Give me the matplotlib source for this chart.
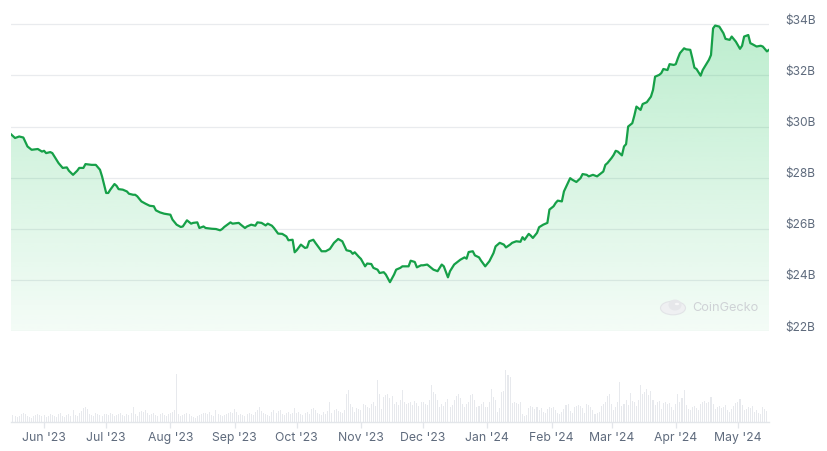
import matplotlib
matplotlib.use("Agg")
import matplotlib.pyplot as plt
import matplotlib.dates as mdates
from matplotlib.transforms import ScaledTranslation
from matplotlib.patches import Circle, Ellipse
import numpy as np
import pandas as pd

# ---------------- data (market cap, $B) ----------------
cap_dates = [
    "2023-05-16", "2023-05-18", "2023-05-20", "2023-05-22", "2023-05-24", "2023-05-26", "2023-05-29", "2023-05-31",
    "2023-06-01", "2023-06-02", "2023-06-04", "2023-06-05", "2023-06-08", "2023-06-10", "2023-06-12", "2023-06-13",
    "2023-06-15", "2023-06-17", "2023-06-18", "2023-06-20", "2023-06-21", "2023-06-24", "2023-06-26", "2023-06-28",
    "2023-06-29", "2023-07-01", "2023-07-02", "2023-07-03", "2023-07-05", "2023-07-06", "2023-07-07", "2023-07-09",
    "2023-07-11", "2023-07-12", "2023-07-14", "2023-07-15", "2023-07-16", "2023-07-18", "2023-07-20", "2023-07-22",
    "2023-07-24", "2023-07-25", "2023-07-27", "2023-07-29", "2023-08-01", "2023-08-02", "2023-08-04", "2023-08-06",
    "2023-08-07", "2023-08-09", "2023-08-11", "2023-08-12", "2023-08-14", "2023-08-15", "2023-08-17", "2023-08-18",
    "2023-08-21", "2023-08-23", "2023-08-25", "2023-08-26", "2023-08-27", "2023-08-30", "2023-08-31", "2023-09-03",
    "2023-09-04", "2023-09-06", "2023-09-07", "2023-09-09", "2023-09-11", "2023-09-12", "2023-09-14", "2023-09-16",
    "2023-09-17", "2023-09-19", "2023-09-20", "2023-09-22", "2023-09-24", "2023-09-26", "2023-09-27", "2023-09-29",
    "2023-09-30", "2023-10-01", "2023-10-03", "2023-10-05", "2023-10-06", "2023-10-07", "2023-10-09", "2023-10-10",
    "2023-10-13", "2023-10-15", "2023-10-17", "2023-10-19", "2023-10-21", "2023-10-23", "2023-10-25", "2023-10-27",
    "2023-10-28", "2023-10-29", "2023-10-31", "2023-11-01", "2023-11-03", "2023-11-04", "2023-11-06", "2023-11-07",
    "2023-11-09", "2023-11-10", "2023-11-12", "2023-11-13", "2023-11-15", "2023-11-17", "2023-11-18", "2023-11-20",
    "2023-11-21", "2023-11-24", "2023-11-25", "2023-11-27", "2023-11-28", "2023-11-30", "2023-12-01", "2023-12-03",
    "2023-12-06", "2023-12-08", "2023-12-10", "2023-12-11", "2023-12-13", "2023-12-14", "2023-12-16", "2023-12-18",
    "2023-12-19", "2023-12-21", "2023-12-22", "2023-12-23", "2023-12-25", "2023-12-26", "2023-12-28", "2023-12-29",
    "2023-12-31", "2024-01-02", "2024-01-04", "2024-01-05", "2024-01-07", "2024-01-09", "2024-01-10", "2024-01-12",
    "2024-01-13", "2024-01-15", "2024-01-17", "2024-01-18", "2024-01-19", "2024-01-21", "2024-01-22", "2024-01-23",
    "2024-01-25", "2024-01-26", "2024-01-28", "2024-01-30", "2024-01-31", "2024-02-02", "2024-02-03", "2024-02-04",
    "2024-02-06", "2024-02-07", "2024-02-10", "2024-02-11", "2024-02-13", "2024-02-15", "2024-02-16", "2024-02-18",
    "2024-02-19", "2024-02-21", "2024-02-23", "2024-02-25", "2024-02-26", "2024-02-27", "2024-02-28", "2024-03-01",
    "2024-03-02", "2024-03-03", "2024-03-04", "2024-03-06", "2024-03-07", "2024-03-08", "2024-03-09", "2024-03-11",
    "2024-03-12", "2024-03-13", "2024-03-15", "2024-03-16", "2024-03-18", "2024-03-20", "2024-03-21", "2024-03-22",
    "2024-03-24", "2024-03-25", "2024-03-26", "2024-03-28", "2024-03-29", "2024-03-31", "2024-04-01", "2024-04-02",
    "2024-04-03", "2024-04-05", "2024-04-06", "2024-04-08", "2024-04-09", "2024-04-10", "2024-04-11", "2024-04-13",
    "2024-04-14", "2024-04-16", "2024-04-17", "2024-04-18", "2024-04-19", "2024-04-20", "2024-04-22", "2024-04-24",
    "2024-04-25", "2024-04-27", "2024-04-28", "2024-04-30", "2024-05-02", "2024-05-03", "2024-05-04", "2024-05-06",
    "2024-05-07", "2024-05-08", "2024-05-10", "2024-05-12", "2024-05-13", "2024-05-15", "2024-05-16",
]
cap_values = [
    29.70, 29.55, 29.61, 29.57, 29.22, 29.09, 29.12, 29.02,
    29.05, 28.96, 29.00, 28.96, 28.57, 28.38, 28.40, 28.27,
    28.11, 28.27, 28.38, 28.38, 28.53, 28.50, 28.50, 28.31,
    28.05, 27.40, 27.40, 27.53, 27.75, 27.68, 27.55, 27.53,
    27.46, 27.37, 27.33, 27.33, 27.27, 27.07, 26.98, 26.90,
    26.88, 26.72, 26.64, 26.59, 26.55, 26.36, 26.16, 26.07,
    26.09, 26.33, 26.20, 26.23, 26.25, 26.03, 26.09, 26.03,
    26.00, 25.99, 25.94, 25.99, 26.07, 26.25, 26.20, 26.23,
    26.16, 26.03, 26.09, 26.16, 26.12, 26.25, 26.23, 26.13,
    26.20, 26.12, 26.03, 25.81, 25.80, 25.70, 25.55, 25.57,
    25.08, 25.16, 25.38, 25.25, 25.27, 25.51, 25.57, 25.45,
    25.12, 25.12, 25.21, 25.45, 25.60, 25.51, 25.16, 25.12,
    25.02, 25.08, 24.90, 24.82, 24.53, 24.64, 24.62, 24.47,
    24.40, 24.27, 24.30, 24.21, 23.91, 24.21, 24.40, 24.47,
    24.53, 24.53, 24.75, 24.70, 24.49, 24.57, 24.57, 24.60,
    24.40, 24.34, 24.60, 24.53, 24.10, 24.34, 24.60, 24.73,
    24.79, 24.88, 24.83, 25.09, 25.12, 24.96, 24.88, 24.75,
    24.53, 24.73, 25.05, 25.31, 25.45, 25.38, 25.27, 25.38,
    25.45, 25.51, 25.49, 25.67, 25.57, 25.80, 25.73, 25.64,
    25.84, 26.06, 26.16, 26.23, 26.75, 26.88, 27.01, 27.10,
    27.07, 27.46, 27.98, 27.92, 27.83, 27.98, 28.14, 28.11,
    28.05, 28.11, 28.05, 28.18, 28.24, 28.50, 28.57, 28.77,
    28.89, 29.05, 29.02, 28.87, 29.22, 29.31, 30.00, 30.13,
    30.43, 30.78, 30.65, 30.88, 30.95, 31.17, 31.43, 31.95,
    32.02, 32.09, 32.25, 32.21, 32.44, 32.41, 32.44, 32.67,
    32.87, 33.06, 33.02, 33.00, 32.67, 32.30, 32.25, 31.99,
    32.21, 32.48, 32.61, 32.80, 33.84, 33.95, 33.91, 33.65,
    33.43, 33.39, 33.52, 33.32, 33.04, 33.16, 33.52, 33.58,
    33.26, 33.22, 33.13, 33.16, 33.13, 32.94, 33.00,
]

# daily trading volume (in $100M), one bar per day starting 2023-05-16
volume_start = "2023-05-16"
vol_may23 = [8, 7, 6, 5, 6, 8, 9, 8, 6, 5, 4, 6, 7, 8, 7, 6]
vol_jun23 = [7, 5, 6, 8, 7, 6, 5, 8, 9, 6, 5, 7, 8, 6, 12, 7, 6, 9, 11, 14, 15, 13, 8, 7, 6, 9, 8, 7, 6, 8]
vol_jul23 = [8, 7, 9, 8, 6, 7, 8, 9, 7, 6, 8, 7, 9, 15, 8, 6, 10, 11, 10, 12, 9, 7, 8, 9, 7, 6, 8, 9, 7, 6, 8]
vol_aug23 = [9, 10, 12, 48, 8, 6, 7, 8, 9, 8, 6, 5, 4, 6, 7, 8, 9, 9, 8, 10, 7, 6, 12, 8, 7, 6, 7, 8, 9, 10, 9]
vol_sep23 = [13, 10, 7, 8, 7, 6, 8, 9, 8, 7, 10, 12, 15, 11, 9, 8, 7, 6, 10, 12, 9, 11, 12, 8, 7, 9, 10, 8, 9, 14]
vol_oct23 = [9, 10, 8, 7, 9, 10, 8, 13, 14, 12, 9, 8, 7, 10, 8, 11, 20, 9, 12, 13, 11, 10, 9, 12, 28, 32, 18, 15, 10, 14, 13]
vol_nov23 = [12, 18, 17, 15, 14, 18, 20, 16, 42, 28, 13, 25, 27, 28, 24, 26, 18, 20, 17, 22, 32, 20, 18, 19, 20, 17, 21, 19, 16, 20]
vol_dec23 = [20, 18, 17, 22, 37, 30, 28, 22, 15, 18, 16, 20, 23, 15, 17, 22, 26, 28, 24, 18, 15, 18, 20, 27, 28, 22, 15, 16, 18, 20, 15]
vol_jan24 = [15, 20, 33, 25, 22, 10, 14, 30, 31, 52, 47, 45, 19, 20, 19, 18, 20, 8, 6, 7, 14, 16, 15, 13, 15, 12, 14, 10, 9, 13, 15]
vol_feb24 = [14, 15, 12, 9, 8, 10, 13, 17, 18, 11, 9, 15, 16, 17, 16, 14, 9, 18, 17, 15, 12, 8, 9, 10, 16, 18, 20, 26, 28]
vol_mar24 = [18, 12, 15, 20, 40, 16, 18, 22, 17, 29, 21, 20, 16, 22, 37, 28, 30, 33, 27, 31, 22, 17, 20, 21, 13, 19, 20, 18, 19, 15, 12]
vol_apr24 = [18, 28, 20, 24, 32, 17, 13, 12, 15, 16, 14, 12, 18, 20, 21, 19, 20, 25, 18, 13, 15, 16, 14, 15, 17, 12, 10, 13, 16, 19]
vol_may24 = [20, 23, 17, 12, 13, 15, 14, 16, 10, 12, 9, 8, 15, 13, 11]

y_ticks = [22, 24, 26, 28, 30, 32, 34]
y_tick_labels = ["$22B", "$24B", "$26B", "$28B", "$30B", "$32B", "$34B"]
month_ticks = ["2023-06-01", "2023-07-01", "2023-08-01", "2023-09-01", "2023-10-01", "2023-11-01",
               "2023-12-01", "2024-01-01", "2024-02-01", "2024-03-01", "2024-04-01", "2024-05-01"]
month_labels = ["Jun '23", "Jul '23", "Aug '23", "Sep '23", "Oct '23", "Nov '23",
                "Dec '23", "Jan '24", "Feb '24", "Mar '24", "Apr '24", "May '24"]

# ---------------- styling ----------------
plt.rcParams['font.family'] = ['Inter', 'DejaVu Sans']
LINE = "#16a048"
FILL = np.array([34, 197, 94]) / 255.0
GRID = "#e9ebee"
TXT = "#5f6b7d"
VOLC = "#e7e9ed"

W, H, DPI = 828, 451, 100
fig = plt.figure(figsize=(W / DPI, H / DPI), dpi=DPI)
fig.patch.set_facecolor("white")

x_left, x_right = 10.9, 769.0
main_top, main_bot = 10.0, 331.0
px_per_b = 25.56
ax = fig.add_axes([x_left / W, 1 - main_bot / H, (x_right - x_left) / W, (main_bot - main_top) / H])
vax = fig.add_axes([x_left / W, 1 - 421.5 / H, (x_right - x_left) / W, 56 / H], sharex=ax)

dates = pd.to_datetime(cap_dates)
vals = np.array(cap_values)
xnum = mdates.date2num(dates)

ymin = 22.0
ymax = ymin + (main_bot - main_top) / px_per_b
ax.set_ylim(ymin, ymax)
ax.set_xlim(xnum[0], xnum[-1])

# gradient fill below the line
poly = ax.fill_between(xnum, vals, ymin, color="none", lw=0)
grad = np.zeros((256, 1, 4))
alphas = np.linspace(0.05, 0.30, 256)
grad[:, 0, :3] = FILL
grad[:, 0, 3] = alphas
img = ax.imshow(grad, aspect="auto", origin="lower",
                extent=[xnum[0], xnum[-1], ymin, 34.0], zorder=1, interpolation="bicubic")
path = poly.get_paths()[0]
img.set_clip_path(path, transform=ax.transData)

ax.plot(xnum, vals, color=LINE, lw=1.6, zorder=3, solid_joinstyle="round")

# grid & y labels on the right
for t in y_ticks:
    ax.axhline(t, color=GRID, lw=0.9, zorder=0)
ax.set_yticks(y_ticks)
ax.set_yticklabels(y_tick_labels)
ax.yaxis.tick_right()
ax.tick_params(axis="y", length=0, pad=11.5, labelsize=8.6, labelcolor=TXT)
off = ScaledTranslation(0, 5 / DPI, fig.dpi_scale_trans)
for lab in ax.get_yticklabels():
    lab.set_transform(lab.get_transform() + off)
    lab.set_horizontalalignment("left")
ax.tick_params(axis="x", which="both", bottom=False, labelbottom=False)
for s in ax.spines.values():
    s.set_visible(False)
ax.set_facecolor("none")

# watermark (CoinGecko logo + text)
ax.text((725 - x_left) / (x_right - x_left), (main_bot - 308) / (main_bot - main_top), "CoinGecko",
        transform=ax.transAxes, fontsize=9.2, color="#cfd2d6", ha="center", va="center", zorder=4)
c = Circle((673 / W, 1 - 308 / H), 12.5 / W, transform=fig.transFigure, facecolor="#eff0f2",
           edgecolor="#e2e4e7", lw=0.8, zorder=5)
fig.patches.append(c)
head = Ellipse((675 / W, 1 - 305 / H), 13 / W, 11 / H, transform=fig.transFigure,
               facecolor="#e6e7ea", edgecolor="none", zorder=6)
fig.patches.append(head)
eye = Circle((677 / W, 1 - 304 / H), 2.2 / W, transform=fig.transFigure,
             facecolor="#f7f7f8", edgecolor="none", zorder=7)
fig.patches.append(eye)

# volume bars
volumes = (vol_may23 + vol_jun23 + vol_jul23 + vol_aug23 + vol_sep23 + vol_oct23 + vol_nov23 +
           vol_dec23 + vol_jan24 + vol_feb24 + vol_mar24 + vol_apr24 + vol_may24)
vdates = pd.date_range(volume_start, periods=len(volumes), freq="D")
vax.bar(mdates.date2num(vdates), volumes, width=0.5, color=VOLC, lw=0, align="center")
vax.set_ylim(0, 56)
vax.set_yticks([])
for k in ["top", "left", "right"]:
    vax.spines[k].set_visible(False)
vax.spines["bottom"].set_color("#e3e6ea")
vax.spines["bottom"].set_linewidth(1.0)
vax.set_xticks(mdates.date2num(pd.to_datetime(month_ticks)))
vax.set_xticklabels(month_labels)
vax.tick_params(axis="x", length=4.5, width=0.9, color="#e3e6ea", pad=3.2, labelsize=8.8, labelcolor=TXT)
vax.set_facecolor("none")
vax.set_xlim(xnum[0], xnum[-1])

fig.savefig("out.png", dpi=DPI, facecolor="white")
